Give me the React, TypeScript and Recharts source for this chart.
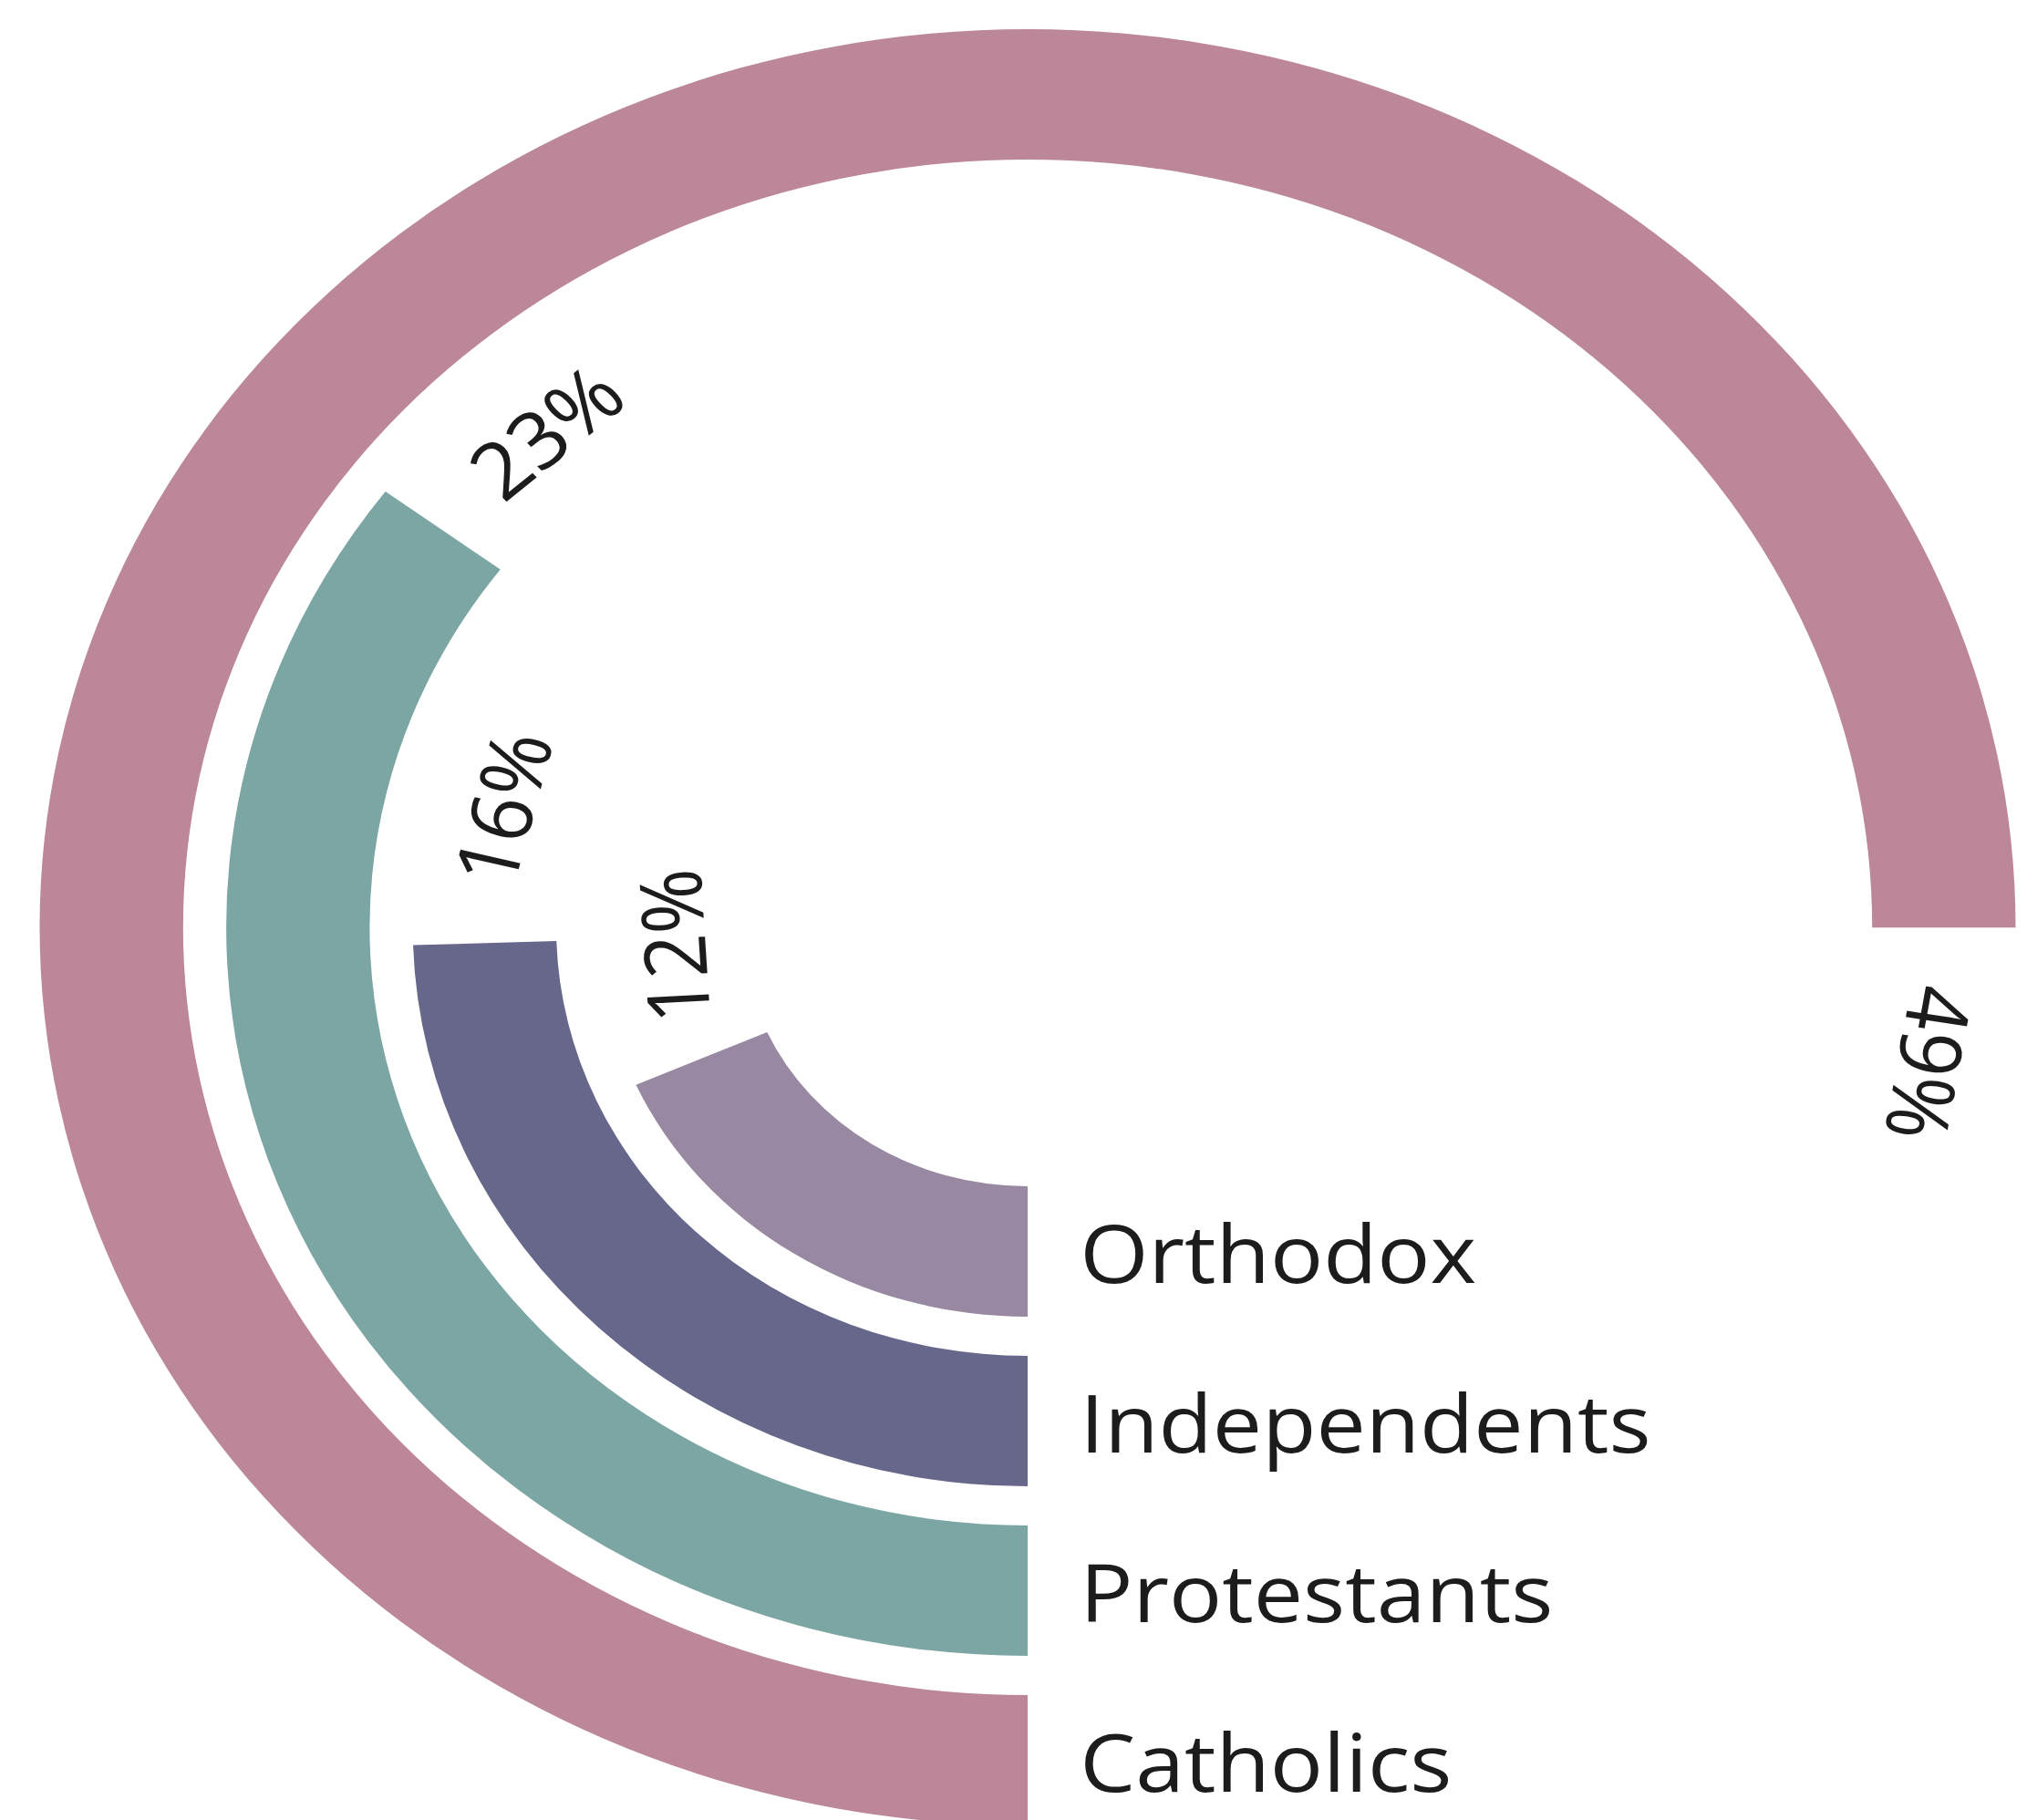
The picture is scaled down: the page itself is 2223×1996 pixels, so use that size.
import React from "react";
import {
  RadialBarChart,
  RadialBar,
  PolarAngleAxis,
  PolarRadiusAxis,
  LabelList,
  Cell,
} from "recharts";

// innermost ring first
const categories = ["Orthodox", "Independents", "Protestants", "Catholics"];
const shares = [12, 16, 23, 49];
const shareLabels = ["12%", "16%", "23%", "49%"];
const colors = ["#9888a1", "#66678a", "#7ca6a3", "#bb8799"];

// 49% fills three quarters of the circle
const FULL_TURN = 65.33;

const WIDTH = 2223;
const HEIGHT = 1996;
const CX = 1127;
const CY = 1017;
const STRETCH_X = 1.1;

const data = categories.map((name, i) => ({ name, value: shares[i] }));

const RAD = Math.PI / 180;

const renderLabel = (props: any) => {
  const { viewBox, index } = props;
  if (!viewBox) return null;
  const { cx, cy, innerRadius, outerRadius, endAngle } = viewBox;
  const mid = (innerRadius + outerRadius) / 2;

  // name sits just right of where the bar starts (6 o'clock)
  const nameX = cx + 52;
  const nameY = cy + mid;

  // percent sits a bit past the bar end, following the circle
  const gap = Math.min(150 / mid / RAD, 20.5);
  const theta = endAngle - gap;
  const px = cx + mid * Math.cos(theta * RAD);
  const py = cy - mid * Math.sin(theta * RAD);

  return (
    <g>
      <text
        x={nameX}
        y={nameY}
        dominantBaseline="central"
        textAnchor="start"
        fontFamily="'Open Sans', sans-serif"
        fontSize={88}
        fill="#1c1c1c"
      >
        {categories[index]}
      </text>
      <text
        x={px}
        y={py}
        dominantBaseline="central"
        textAnchor="middle"
        fontFamily="'Open Sans', sans-serif"
        fontSize={86}
        fill="#1c1c1c"
        transform={`rotate(${90 - theta}, ${px}, ${py})`}
      >
        {shareLabels[index]}
      </text>
    </g>
  );
};

export default function App() {
  return (
    <div
      style={{
        position: "absolute",
        left: 0,
        top: 0,
        width: WIDTH,
        height: HEIGHT,
        overflow: "hidden",
        background: "#ffffff",
      }}
    >
      <div
        style={{
          width: WIDTH,
          height: HEIGHT,
          transform: `scaleX(${STRETCH_X})`,
          transformOrigin: `${CX}px ${CY}px`,
        }}
      >
        <RadialBarChart
          width={WIDTH}
          height={HEIGHT}
          cx={CX}
          cy={CY}
          innerRadius={262}
          outerRadius={1006}
          barSize={143}
          startAngle={270}
          endAngle={-90}
          data={data}
          margin={{ top: 0, right: 0, bottom: 0, left: 0 }}
        >
          <PolarAngleAxis
            type="number"
            domain={[0, FULL_TURN]}
            tick={false}
            axisLine={false}
          />
          <PolarRadiusAxis
            type="category"
            dataKey="name"
            tick={false}
            axisLine={false}
          />
          <RadialBar dataKey="value" isAnimationActive={false}>
            {data.map((d, i) => (
              <Cell key={d.name} fill={colors[i]} />
            ))}
            <LabelList dataKey="value" content={renderLabel} />
          </RadialBar>
        </RadialBarChart>
      </div>
    </div>
  );
}
